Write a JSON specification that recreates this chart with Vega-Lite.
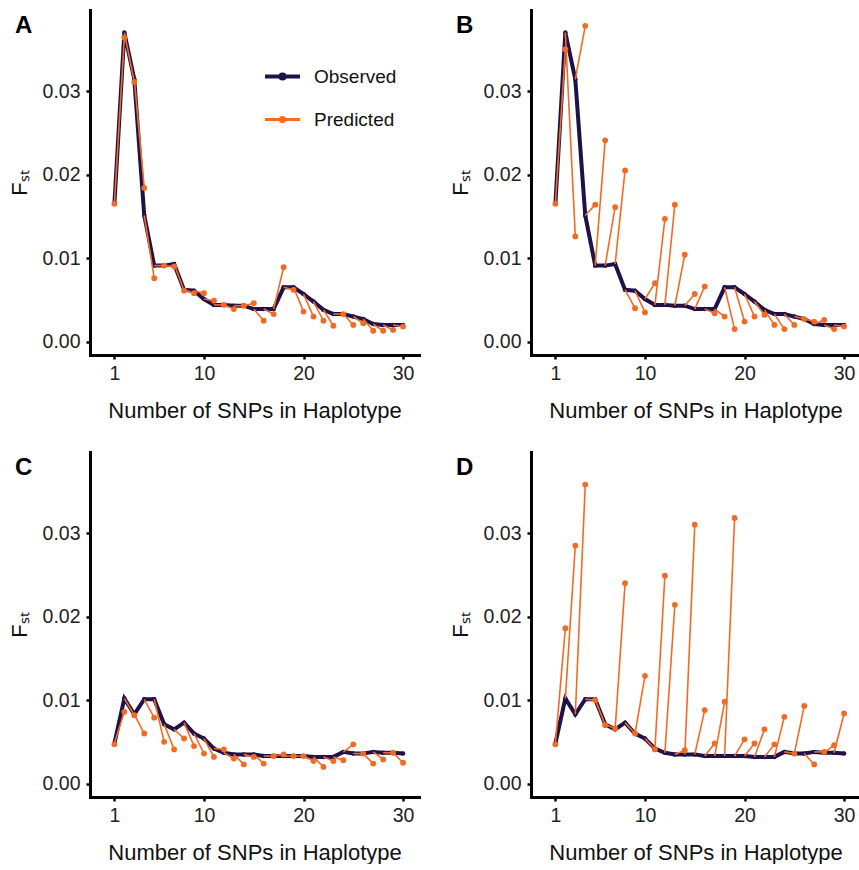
{
  "$schema": "https://vega.github.io/schema/vega-lite/v6.json",
  "autosize": {"type": "pad"},
  "padding": {"left": 8, "top": 10, "right": 0, "bottom": 0},
  "background": "white",
  "columns": 2,
  "spacing": {"row": 97, "column": 112},
  "bounds": "flush",
  "resolve": {"scale": {"color": "independent"}, "legend": {"color": "independent"}},
  "datasets": {
    "fst": [
      {"p":"A","n":1,"obs":0.0165,"pred":0.0165},{"p":"A","n":2,"obs":0.0370,"pred":0.0364},{"p":"A","n":3,"obs":0.0314,"pred":0.0311},{"p":"A","n":4,"obs":0.0151,"pred":0.0184},{"p":"A","n":5,"obs":0.0091,"pred":0.0076},{"p":"A","n":6,"obs":0.0091,"pred":0.0091},{"p":"A","n":7,"obs":0.0093,"pred":0.0090},{"p":"A","n":8,"obs":0.0062,"pred":0.0061},{"p":"A","n":9,"obs":0.0061,"pred":0.0058},{"p":"A","n":10,"obs":0.0051,"pred":0.0058},
      {"p":"A","n":11,"obs":0.0044,"pred":0.0049},{"p":"A","n":12,"obs":0.0044,"pred":0.0044},{"p":"A","n":13,"obs":0.0043,"pred":0.0039},{"p":"A","n":14,"obs":0.0043,"pred":0.0043},{"p":"A","n":15,"obs":0.0039,"pred":0.0046},{"p":"A","n":16,"obs":0.0039,"pred":0.0025},{"p":"A","n":17,"obs":0.0039,"pred":0.0033},{"p":"A","n":18,"obs":0.0065,"pred":0.0089},{"p":"A","n":19,"obs":0.0065,"pred":0.0062},{"p":"A","n":20,"obs":0.0057,"pred":0.0036},
      {"p":"A","n":21,"obs":0.0048,"pred":0.0030},{"p":"A","n":22,"obs":0.0038,"pred":0.0025},{"p":"A","n":23,"obs":0.0033,"pred":0.0019},{"p":"A","n":24,"obs":0.0033,"pred":0.0033},{"p":"A","n":25,"obs":0.0030,"pred":0.0020},{"p":"A","n":26,"obs":0.0027,"pred":0.0022},{"p":"A","n":27,"obs":0.0021,"pred":0.0013},{"p":"A","n":28,"obs":0.0020,"pred":0.0013},{"p":"A","n":29,"obs":0.0020,"pred":0.0014},{"p":"A","n":30,"obs":0.0020,"pred":0.0018},

      {"p":"B","n":1,"obs":0.0165,"pred":0.0165},{"p":"B","n":2,"obs":0.0370,"pred":0.0350},{"p":"B","n":3,"obs":0.0314,"pred":0.0126},{"p":"B","n":4,"obs":0.0151,"pred":0.0378},{"p":"B","n":5,"obs":0.0091,"pred":0.0164},{"p":"B","n":6,"obs":0.0091,"pred":0.0241},{"p":"B","n":7,"obs":0.0093,"pred":0.0161},{"p":"B","n":8,"obs":0.0062,"pred":0.0205},{"p":"B","n":9,"obs":0.0061,"pred":0.0040},{"p":"B","n":10,"obs":0.0051,"pred":0.0035},
      {"p":"B","n":11,"obs":0.0044,"pred":0.0070},{"p":"B","n":12,"obs":0.0044,"pred":0.0147},{"p":"B","n":13,"obs":0.0043,"pred":0.0164},{"p":"B","n":14,"obs":0.0043,"pred":0.0104},{"p":"B","n":15,"obs":0.0039,"pred":0.0057},{"p":"B","n":16,"obs":0.0039,"pred":0.0066},{"p":"B","n":17,"obs":0.0039,"pred":0.0034},{"p":"B","n":18,"obs":0.0065,"pred":0.0030},{"p":"B","n":19,"obs":0.0065,"pred":0.0015},{"p":"B","n":20,"obs":0.0057,"pred":0.0024},
      {"p":"B","n":21,"obs":0.0048,"pred":0.0030},{"p":"B","n":22,"obs":0.0038,"pred":0.0032},{"p":"B","n":23,"obs":0.0033,"pred":0.0020},{"p":"B","n":24,"obs":0.0033,"pred":0.0015},{"p":"B","n":25,"obs":0.0030,"pred":0.0020},{"p":"B","n":26,"obs":0.0027,"pred":0.0027},{"p":"B","n":27,"obs":0.0021,"pred":0.0024},{"p":"B","n":28,"obs":0.0020,"pred":0.0026},{"p":"B","n":29,"obs":0.0020,"pred":0.0015},{"p":"B","n":30,"obs":0.0020,"pred":0.0018},

      {"p":"C","n":1,"obs":0.0048,"pred":0.0047},{"p":"C","n":2,"obs":0.0102,"pred":0.0086},{"p":"C","n":3,"obs":0.0083,"pred":0.0082},{"p":"C","n":4,"obs":0.0101,"pred":0.0060},{"p":"C","n":5,"obs":0.0101,"pred":0.0079},{"p":"C","n":6,"obs":0.0071,"pred":0.0050},{"p":"C","n":7,"obs":0.0065,"pred":0.0041},{"p":"C","n":8,"obs":0.0073,"pred":0.0054},{"p":"C","n":9,"obs":0.0060,"pred":0.0045},{"p":"C","n":10,"obs":0.0054,"pred":0.0036},
      {"p":"C","n":11,"obs":0.0042,"pred":0.0032},{"p":"C","n":12,"obs":0.0037,"pred":0.0041},{"p":"C","n":13,"obs":0.0035,"pred":0.0030},{"p":"C","n":14,"obs":0.0035,"pred":0.0023},{"p":"C","n":15,"obs":0.0035,"pred":0.0032},{"p":"C","n":16,"obs":0.0033,"pred":0.0024},{"p":"C","n":17,"obs":0.0033,"pred":0.0033},{"p":"C","n":18,"obs":0.0033,"pred":0.0035},{"p":"C","n":19,"obs":0.0033,"pred":0.0033},{"p":"C","n":20,"obs":0.0033,"pred":0.0033},
      {"p":"C","n":21,"obs":0.0032,"pred":0.0027},{"p":"C","n":22,"obs":0.0032,"pred":0.0020},{"p":"C","n":23,"obs":0.0032,"pred":0.0027},{"p":"C","n":24,"obs":0.0038,"pred":0.0028},{"p":"C","n":25,"obs":0.0036,"pred":0.0047},{"p":"C","n":26,"obs":0.0036,"pred":0.0036},{"p":"C","n":27,"obs":0.0038,"pred":0.0024},{"p":"C","n":28,"obs":0.0037,"pred":0.0029},{"p":"C","n":29,"obs":0.0037,"pred":0.0037},{"p":"C","n":30,"obs":0.0036,"pred":0.0025},

      {"p":"D","n":1,"obs":0.0048,"pred":0.0047},{"p":"D","n":2,"obs":0.0102,"pred":0.0186},{"p":"D","n":3,"obs":0.0083,"pred":0.0285},{"p":"D","n":4,"obs":0.0101,"pred":0.0358},{"p":"D","n":5,"obs":0.0101,"pred":0.0100},{"p":"D","n":6,"obs":0.0071,"pred":0.0070},{"p":"D","n":7,"obs":0.0065,"pred":0.0066},{"p":"D","n":8,"obs":0.0073,"pred":0.0240},{"p":"D","n":9,"obs":0.0060,"pred":0.0060},{"p":"D","n":10,"obs":0.0054,"pred":0.0129},
      {"p":"D","n":11,"obs":0.0042,"pred":0.0041},{"p":"D","n":12,"obs":0.0037,"pred":0.0249},{"p":"D","n":13,"obs":0.0035,"pred":0.0214},{"p":"D","n":14,"obs":0.0035,"pred":0.0040},{"p":"D","n":15,"obs":0.0035,"pred":0.0310},{"p":"D","n":16,"obs":0.0033,"pred":0.0088},{"p":"D","n":17,"obs":0.0033,"pred":0.0048},{"p":"D","n":18,"obs":0.0033,"pred":0.0098},{"p":"D","n":19,"obs":0.0033,"pred":0.0318},{"p":"D","n":20,"obs":0.0033,"pred":0.0053},
      {"p":"D","n":21,"obs":0.0032,"pred":0.0048},{"p":"D","n":22,"obs":0.0032,"pred":0.0065},{"p":"D","n":23,"obs":0.0032,"pred":0.0047},{"p":"D","n":24,"obs":0.0038,"pred":0.0080},{"p":"D","n":25,"obs":0.0036,"pred":0.0036},{"p":"D","n":26,"obs":0.0036,"pred":0.0093},{"p":"D","n":27,"obs":0.0038,"pred":0.0023},{"p":"D","n":28,"obs":0.0037,"pred":0.0038},{"p":"D","n":29,"obs":0.0037,"pred":0.0046},{"p":"D","n":30,"obs":0.0036,"pred":0.0084}
    ]
  },
  "data": {"name": "fst"},
  "concat": [
    {
      "width": 329, "height": 345,
      "title": {"text": "A"},
      "transform": [
        {"filter": "datum.p === 'A'"},
        {"window": [{"op": "lag", "field": "obs", "as": "obs_prev"}, {"op": "lag", "field": "n", "as": "n_prev"}], "sort": [{"field": "n"}]}
      ],
      "layer": [
        {"mark": {"type": "line", "strokeWidth": 4},
         "encoding": {
           "x": {"field": "n", "type": "quantitative", "title": "Number of SNPs in Haplotype", "scale": {"domain": [-1.45, 31.6], "nice": false, "zero": false}, "axis": {"values": [1, 10, 20, 30]}},
           "y": {"field": "obs", "type": "quantitative", "title": "Fₛₜ", "scale": {"domain": [-0.0016, 0.0397], "nice": false, "zero": false}, "axis": {"values": [0, 0.01, 0.02, 0.03], "format": ".2f"}},
           "color": {"datum": "Observed", "scale": {"domain": ["Observed", "Predicted"], "range": ["#1f1249", "#f26b24"]},
             "legend": {"orient": "none", "legendX": 183, "legendY": 57, "title": null, "symbolType": "M-1,0H1M0.12,0A0.12,0.12,0,1,1,-0.12,0A0.12,0.12,0,1,1,0.12,0Z", "symbolSize": 1225, "labelFontSize": 19, "labelColor": "#111111", "labelFont": "Liberation Sans", "rowPadding": 23, "labelOffset": 22,
               "encode": {"symbols": {"update": {"fill": {"signal": "datum.value === 'Observed' ? '#1f1249' : '#f26b24'"}, "stroke": {"signal": "datum.value === 'Observed' ? '#1f1249' : '#f26b24'"}, "strokeWidth": {"signal": "datum.value === 'Observed' ? 4 : 3"}, "opacity": {"value": 1}}}}}}
         }},
        {"mark": {"type": "point", "filled": true, "size": 20, "opacity": 1},
         "encoding": {
           "x": {"field": "n", "type": "quantitative", "title": "Number of SNPs in Haplotype"},
           "y": {"field": "obs", "type": "quantitative", "title": "Fₛₜ"},
           "color": {"datum": "Observed"}
         }},
        {"transform": [{"filter": "datum.n_prev != null"}],
         "mark": {"type": "rule", "strokeWidth": 1.6},
         "encoding": {
           "x": {"field": "n_prev", "type": "quantitative", "title": "Number of SNPs in Haplotype"},
           "y": {"field": "obs_prev", "type": "quantitative", "title": "Fₛₜ"},
           "x2": {"field": "n"},
           "y2": {"field": "pred"},
           "color": {"datum": "Predicted"}
         }},
        {"mark": {"type": "point", "filled": true, "size": 34, "opacity": 1},
         "encoding": {
           "x": {"field": "n", "type": "quantitative", "title": "Number of SNPs in Haplotype"},
           "y": {"field": "pred", "type": "quantitative", "title": "Fₛₜ"},
           "color": {"datum": "Predicted"}
         }}
      ]
    },
    {
      "width": 329, "height": 345,
      "title": {"text": "B"},
      "transform": [
        {"filter": "datum.p === 'B'"},
        {"window": [{"op": "lag", "field": "obs", "as": "obs_prev"}, {"op": "lag", "field": "n", "as": "n_prev"}], "sort": [{"field": "n"}]}
      ],
      "layer": [
        {"mark": {"type": "line", "strokeWidth": 4, "color": "#1f1249"},
         "encoding": {
           "x": {"field": "n", "type": "quantitative", "title": "Number of SNPs in Haplotype", "scale": {"domain": [-1.45, 31.6], "nice": false, "zero": false}, "axis": {"values": [1, 10, 20, 30]}},
           "y": {"field": "obs", "type": "quantitative", "title": "Fₛₜ", "scale": {"domain": [-0.0016, 0.0397], "nice": false, "zero": false}, "axis": {"values": [0, 0.01, 0.02, 0.03], "format": ".2f"}}
         }},
        {"mark": {"type": "point", "filled": true, "size": 20, "opacity": 1, "color": "#1f1249"},
         "encoding": {
           "x": {"field": "n", "type": "quantitative", "title": "Number of SNPs in Haplotype"},
           "y": {"field": "obs", "type": "quantitative", "title": "Fₛₜ"}
         }},
        {"transform": [{"filter": "datum.n_prev != null"}],
         "mark": {"type": "rule", "strokeWidth": 1.6, "color": "#f26b24"},
         "encoding": {
           "x": {"field": "n_prev", "type": "quantitative", "title": "Number of SNPs in Haplotype"},
           "y": {"field": "obs_prev", "type": "quantitative", "title": "Fₛₜ"},
           "x2": {"field": "n"},
           "y2": {"field": "pred"}
         }},
        {"mark": {"type": "point", "filled": true, "size": 34, "opacity": 1, "color": "#f26b24"},
         "encoding": {
           "x": {"field": "n", "type": "quantitative", "title": "Number of SNPs in Haplotype"},
           "y": {"field": "pred", "type": "quantitative", "title": "Fₛₜ"}
         }}
      ]
    },
    {
      "width": 329, "height": 345,
      "title": {"text": "C"},
      "transform": [
        {"filter": "datum.p === 'C'"},
        {"window": [{"op": "lag", "field": "obs", "as": "obs_prev"}, {"op": "lag", "field": "n", "as": "n_prev"}], "sort": [{"field": "n"}]}
      ],
      "layer": [
        {"mark": {"type": "line", "strokeWidth": 4, "color": "#1f1249"},
         "encoding": {
           "x": {"field": "n", "type": "quantitative", "title": "Number of SNPs in Haplotype", "scale": {"domain": [-1.45, 31.6], "nice": false, "zero": false}, "axis": {"values": [1, 10, 20, 30]}},
           "y": {"field": "obs", "type": "quantitative", "title": "Fₛₜ", "scale": {"domain": [-0.0016, 0.0397], "nice": false, "zero": false}, "axis": {"values": [0, 0.01, 0.02, 0.03], "format": ".2f"}}
         }},
        {"mark": {"type": "point", "filled": true, "size": 20, "opacity": 1, "color": "#1f1249"},
         "encoding": {
           "x": {"field": "n", "type": "quantitative", "title": "Number of SNPs in Haplotype"},
           "y": {"field": "obs", "type": "quantitative", "title": "Fₛₜ"}
         }},
        {"transform": [{"filter": "datum.n_prev != null"}],
         "mark": {"type": "rule", "strokeWidth": 1.6, "color": "#f26b24"},
         "encoding": {
           "x": {"field": "n_prev", "type": "quantitative", "title": "Number of SNPs in Haplotype"},
           "y": {"field": "obs_prev", "type": "quantitative", "title": "Fₛₜ"},
           "x2": {"field": "n"},
           "y2": {"field": "pred"}
         }},
        {"mark": {"type": "point", "filled": true, "size": 34, "opacity": 1, "color": "#f26b24"},
         "encoding": {
           "x": {"field": "n", "type": "quantitative", "title": "Number of SNPs in Haplotype"},
           "y": {"field": "pred", "type": "quantitative", "title": "Fₛₜ"}
         }}
      ]
    },
    {
      "width": 329, "height": 345,
      "title": {"text": "D"},
      "transform": [
        {"filter": "datum.p === 'D'"},
        {"window": [{"op": "lag", "field": "obs", "as": "obs_prev"}, {"op": "lag", "field": "n", "as": "n_prev"}], "sort": [{"field": "n"}]}
      ],
      "layer": [
        {"mark": {"type": "line", "strokeWidth": 4, "color": "#1f1249"},
         "encoding": {
           "x": {"field": "n", "type": "quantitative", "title": "Number of SNPs in Haplotype", "scale": {"domain": [-1.45, 31.6], "nice": false, "zero": false}, "axis": {"values": [1, 10, 20, 30]}},
           "y": {"field": "obs", "type": "quantitative", "title": "Fₛₜ", "scale": {"domain": [-0.0016, 0.0397], "nice": false, "zero": false}, "axis": {"values": [0, 0.01, 0.02, 0.03], "format": ".2f"}}
         }},
        {"mark": {"type": "point", "filled": true, "size": 20, "opacity": 1, "color": "#1f1249"},
         "encoding": {
           "x": {"field": "n", "type": "quantitative", "title": "Number of SNPs in Haplotype"},
           "y": {"field": "obs", "type": "quantitative", "title": "Fₛₜ"}
         }},
        {"transform": [{"filter": "datum.n_prev != null"}],
         "mark": {"type": "rule", "strokeWidth": 1.6, "color": "#f26b24"},
         "encoding": {
           "x": {"field": "n_prev", "type": "quantitative", "title": "Number of SNPs in Haplotype"},
           "y": {"field": "obs_prev", "type": "quantitative", "title": "Fₛₜ"},
           "x2": {"field": "n"},
           "y2": {"field": "pred"}
         }},
        {"mark": {"type": "point", "filled": true, "size": 34, "opacity": 1, "color": "#f26b24"},
         "encoding": {
           "x": {"field": "n", "type": "quantitative", "title": "Number of SNPs in Haplotype"},
           "y": {"field": "pred", "type": "quantitative", "title": "Fₛₜ"}
         }}
      ]
    }
  ],
  "config": {
    "view": {"stroke": null},
    "font": "Liberation Sans",
    "axis": {"domainColor": "black", "domainWidth": 3, "domainCap": "square", "tickColor": "black", "tickWidth": 2.5, "tickSize": 4, "grid": false, "labelFont": "Liberation Sans", "labelFontSize": 19.5, "labelColor": "#222222", "titleFont": "Liberation Sans", "titleFontSize": 22, "titleFontWeight": "normal", "titleColor": "#111111", "labelPadding": 5},
    "axisX": {"titlePadding": 18},
    "axisY": {"titlePadding": 11, "labelPadding": 6},
    "title": {"fontSize": 24, "fontWeight": "bold", "font": "Liberation Sans", "anchor": "start", "frame": "group", "offset": 0, "dx": -75, "dy": 32, "baseline": "alphabetic", "color": "black"}
  }
}
